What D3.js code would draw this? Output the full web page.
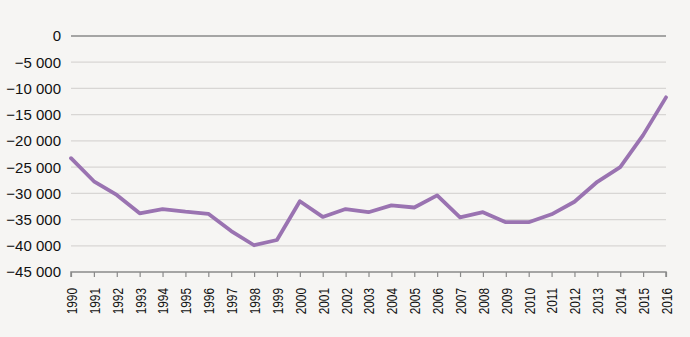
<!DOCTYPE html>
<html><head><meta charset="utf-8">
<script src="https://cdn.jsdelivr.net/npm/d3@7"></script>
<style>
html,body{margin:0;padding:0;background:#f6f5f3;}
text{font-family:"Liberation Sans",Arial,sans-serif;}
</style></head>
<body><svg id="c" width="690" height="337"></svg>
<script>
const years = [1990,1991,1992,1993,1994,1995,1996,1997,1998,1999,2000,2001,2002,2003,2004,2005,2006,2007,2008,2009,2010,2011,2012,2013,2014,2015,2016];
const values = [-23300,-27700,-30300,-33800,-33000,-33500,-33900,-37200,-39900,-38900,-31500,-34500,-33000,-33600,-32300,-32700,-30400,-34600,-33600,-35500,-35500,-34000,-31600,-27800,-25000,-18900,-11700];
const yTicks = [0,-5000,-10000,-15000,-20000,-25000,-30000,-35000,-40000,-45000];

const svg = d3.select("#c");
const x = d3.scalePoint().domain(years).range([71,666]);
const y = d3.scaleLinear().domain([-45000,0]).range([272,36]);
const fmt = v => v===0 ? "0" : "\u2212" + d3.format(",")(Math.abs(v)).replace(/,/g," ");

// gridlines
svg.append("g").selectAll("line").data(yTicks.filter(t=>t!==-45000)).join("line")
  .attr("x1",71).attr("x2",666)
  .attr("y1",d=>y(d)).attr("y2",d=>y(d))
  .attr("stroke",d=>d===0?"#8a8a8a":"#d8d6d4")
  .attr("stroke-width",d=>d===0?1.5:1.2);

// y labels
svg.append("g").selectAll("text").data(yTicks).join("text")
  .attr("x",61).attr("y",d=>y(d)).attr("dy","0.36em")
  .attr("text-anchor","end").attr("font-size",15).attr("fill","#111")
  .text(fmt);

// x axis
const sx = 0.79;
const xa = svg.append("g").attr("transform","translate(0,272)")
  .call(d3.axisBottom(x).tickSize(5).tickPadding(5));
xa.select(".domain").attr("stroke","#8a8a8a").attr("stroke-width",1.5).attr("d","M71,5V0H666V5");
xa.selectAll(".tick line").attr("stroke","#8a8a8a").attr("stroke-width",1.2);
xa.selectAll(".tick text")
  .attr("font-size",15).attr("fill","#111").attr("font-family","Liberation Sans, Arial, sans-serif")
  .attr("transform",`rotate(-90) scale(${sx},1)`).attr("text-anchor","end")
  .attr("x",-16/sx).attr("y",0).attr("dy","0.36em");

// line
svg.append("path").datum(values)
  .attr("fill","none").attr("stroke","#9a73b1").attr("stroke-width",3.8)
  .attr("stroke-linejoin","round").attr("stroke-linecap","round")
  .attr("d", d3.line().x((d,i)=>x(years[i])).y(d=>y(d)));
</script></body></html>
